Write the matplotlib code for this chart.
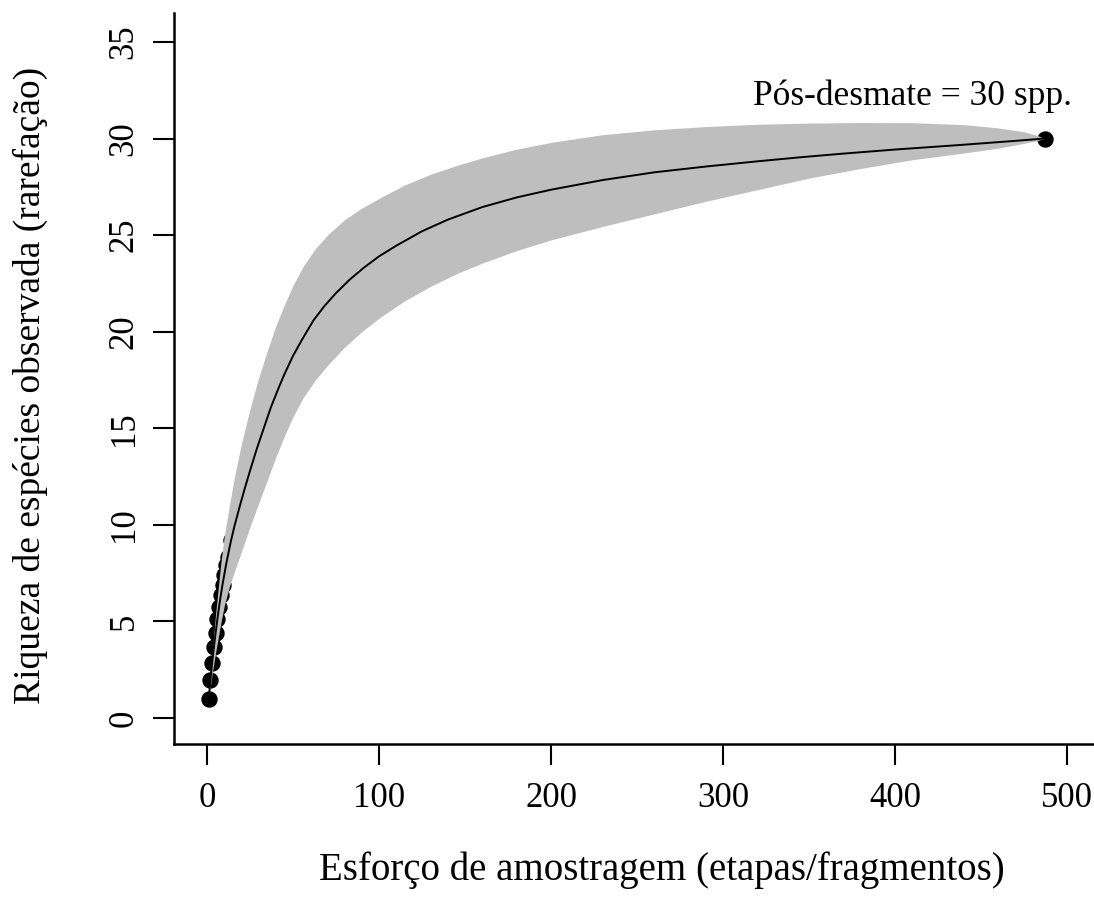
import matplotlib
matplotlib.use("Agg")
import matplotlib.pyplot as plt

# --- data ---
# rarefied mean richness (line + points)
curve_x = [1, 2, 3, 4, 5, 6, 7, 8, 9, 10, 11, 12, 14, 16, 19, 22, 25, 29, 33, 37, 41,
           45, 50, 55, 62, 68, 75, 83, 91, 100, 110, 125, 140, 160, 180, 200, 230, 260,
           290, 320, 345, 370, 400, 440, 470, 487]
curve_y = [1.0, 1.97, 2.85, 3.65, 4.4, 5.1, 5.75, 6.35, 6.9, 7.4, 7.9, 8.35, 9.2, 9.95,
           10.95, 11.9, 12.8, 13.95, 15.0, 16.05, 16.95, 17.8, 18.75, 19.55, 20.6, 21.3,
           22.0, 22.7, 23.3, 23.9, 24.45, 25.2, 25.8, 26.45, 26.95, 27.35, 27.85, 28.25,
           28.55, 28.82, 29.03, 29.22, 29.43, 29.68, 29.88, 30.0]

# confidence band
ci_x = [1, 3, 5, 8, 10, 13, 16, 20, 25, 30, 35, 40, 45, 50, 56, 63, 70, 80, 90, 100,
        115, 130, 145, 160, 180, 200, 230, 260, 290, 320, 350, 380, 410, 440, 460, 475,
        483, 487]
ci_upper = [1.0, 3.35, 5.4, 8.0, 9.4, 11.0, 12.5, 14.2, 16.0, 17.6, 19.0, 20.3, 21.4,
            22.4, 23.4, 24.3, 25.0, 25.8, 26.4, 26.9, 27.6, 28.15, 28.6, 29.0, 29.45,
            29.8, 30.2, 30.45, 30.62, 30.74, 30.8, 30.83, 30.82, 30.72, 30.55, 30.35,
            30.15, 30.0]
ci_lower = [1.0, 2.3, 3.4, 4.9, 5.8, 6.8, 7.6, 8.6, 9.9, 11.1, 12.3, 13.5, 14.6, 15.6,
            16.6, 17.5, 18.25, 19.2, 20.0, 20.7, 21.6, 22.35, 23.0, 23.55, 24.2, 24.75,
            25.45, 26.1, 26.75, 27.35, 27.95, 28.45, 28.9, 29.25, 29.5, 29.75, 29.9, 30.0]

x_ticks = [0, 100, 200, 300, 400, 500]
y_ticks = [0, 5, 10, 15, 20, 25, 30, 35]
x_label = "Esforço de amostragem (etapas/fragmentos)"
y_label = "Riqueza de espécies observada (rarefação)"
annot = "Pós-desmate = 30 spp."

plt.rcParams['font.family'] = ['Liberation Serif', 'DejaVu Serif']

W, H = 1094, 897
fig = plt.figure(figsize=(W / 100, H / 100), dpi=100)
ax = fig.add_axes([174 / W, 1 - 744 / H, 1 - 174 / W, (744 - 13) / H])

# points (only those not hidden under the band are visible in the reference)
pts_x = [x for x in curve_x if x <= 16] + [curve_x[-1]]
pts_y = [y for x, y in zip(curve_x, curve_y) if x <= 16] + [curve_y[-1]]
ax.plot(pts_x, pts_y, 'o', color='black', markersize=10.8, zorder=1)
ax.fill_between(ci_x, ci_lower, ci_upper, color='#BEBEBE', linewidth=0, zorder=2)
ax.plot(curve_x, curve_y, '-', color='black', linewidth=1.4, zorder=3)

ax.set_xlim(-19.2, 515.7)
ax.set_ylim(-1.35, 36.5)

ax.spines['top'].set_visible(False)
ax.spines['right'].set_visible(False)
for s in ['left', 'bottom']:
    ax.spines[s].set_linewidth(1.8)

ax.set_xticks(x_ticks)
ax.set_yticks(y_ticks)
ax.tick_params(axis='both', direction='out', length=15, width=1.5, labelsize=25)
ax.tick_params(axis='x', pad=12)
ax.tick_params(axis='y', pad=9)
for lab in ax.get_yticklabels():
    lab.set_rotation(90)
    lab.set_va('center')

ax.text(410, 32.2, annot, ha='center', va='center', fontsize=25.5)

fig.text(662 / W, 1 - 870 / H, x_label, ha='center', va='center', fontsize=28)
fig.text(30 / W, 1 - 385 / H, y_label, ha='center', va='center', fontsize=27,
         rotation=90)

fig.savefig('out.png', dpi=100)
